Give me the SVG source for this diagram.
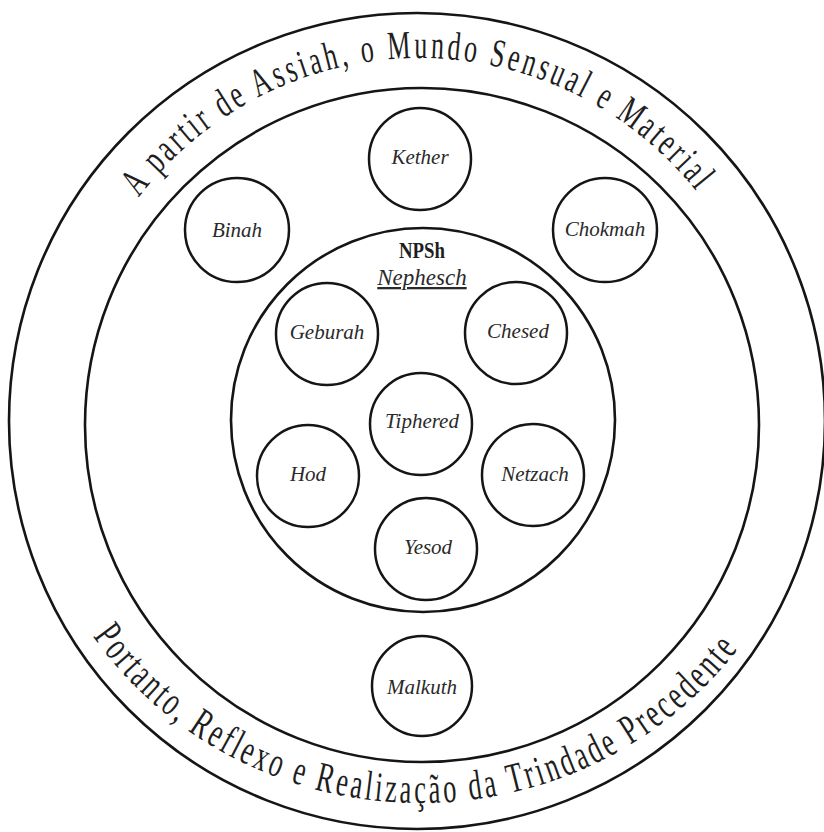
<svg xmlns="http://www.w3.org/2000/svg" width="824" height="832" viewBox="0 0 824 832">
<style>
.ring{fill:none;stroke:#151515;stroke-width:2.6}
.node{fill:#fff;stroke:#151515;stroke-width:2.5}
.lbl{font-family:"Liberation Serif","Times New Roman",serif;font-style:italic;font-size:21px;fill:#2a2a2a;text-anchor:middle}
.arc{font-family:"Liberation Serif","Times New Roman",serif;font-size:40px;letter-spacing:5px;fill:#1e1e1e}
.arcb{font-family:"Liberation Serif","Times New Roman",serif;font-size:42px;letter-spacing:5px;fill:#1e1e1e}
</style>
<defs>
<path id="topArc" d="M138.7,197.5 A357,363 0 0,1 697.4,192.6"/>
<path id="botArc" d="M92.9,636.3 A396,382 0 0,0 745.6,638.5"/>
</defs>
<rect width="824" height="832" fill="#fff"/>
<g id="rings">
<circle class="ring" cx="417" cy="421" r="408"/>
<circle class="ring" cx="422" cy="425" r="337"/>
<circle class="ring" cx="423" cy="420" r="192"/>
</g>
<g id="arc-top">
<text class="arc"><textPath href="#topArc" startOffset="0" textLength="257.3" lengthAdjust="spacingAndGlyphs">A partir de Assiah,</textPath></text>
<text class="arc"><textPath href="#topArc" startOffset="267.1" textLength="117" lengthAdjust="spacingAndGlyphs">o Mundo</textPath></text>
<text class="arc"><textPath href="#topArc" startOffset="393.8" textLength="251.2" lengthAdjust="spacingAndGlyphs">Sensual e Material</textPath></text>
</g>
<g id="arc-bottom">
<text class="arcb"><textPath href="#botArc" startOffset="0" textLength="264.5" lengthAdjust="spacingAndGlyphs">Portanto, Reflexo e</textPath></text>
<text class="arcb"><textPath href="#botArc" startOffset="274.3" textLength="188.4" lengthAdjust="spacingAndGlyphs">Realização da</textPath></text>
<text class="arcb"><textPath href="#botArc" startOffset="472.4" textLength="277.7" lengthAdjust="spacingAndGlyphs">Trindade Precedente</textPath></text>
</g>
<g id="npsh-title">
<text x="422" y="258" style="font-family:'Liberation Serif','Times New Roman',serif;font-weight:bold;font-size:24px;fill:#1e1e1e;text-anchor:middle" textLength="46" lengthAdjust="spacingAndGlyphs">NPSh</text>
<text x="422" y="285" class="lbl" style="font-size:23px;text-decoration:underline">Nephesch</text>
</g>
<g id="connectors"></g>
<g id="kether"><circle class="node" cx="420" cy="159" r="51"/><text class="lbl" x="420" y="164">Kether</text></g>
<g id="binah"><circle class="node" cx="237" cy="230" r="52"/><text class="lbl" x="237" y="237">Binah</text></g>
<g id="chokmah"><circle class="node" cx="605" cy="230" r="52"/><text class="lbl" x="605" y="236">Chokmah</text></g>
<g id="geburah"><circle class="node" cx="327" cy="334" r="51"/><text class="lbl" x="327" y="339">Geburah</text></g>
<g id="chesed"><circle class="node" cx="516" cy="333" r="51"/><text class="lbl" x="518" y="338">Chesed</text></g>
<g id="tiphered"><circle class="node" cx="421" cy="424" r="51"/><text class="lbl" x="422" y="428">Tiphered</text></g>
<g id="hod"><circle class="node" cx="308" cy="476" r="51"/><text class="lbl" x="308" y="481">Hod</text></g>
<g id="netzach"><circle class="node" cx="533" cy="475" r="51"/><text class="lbl" x="535" y="481">Netzach</text></g>
<g id="yesod"><circle class="node" cx="426" cy="549" r="51"/><text class="lbl" x="428" y="554">Yesod</text></g>
<g id="malkuth"><circle class="node" cx="422" cy="686" r="50"/><text class="lbl" x="422" y="694">Malkuth</text></g>
</svg>
